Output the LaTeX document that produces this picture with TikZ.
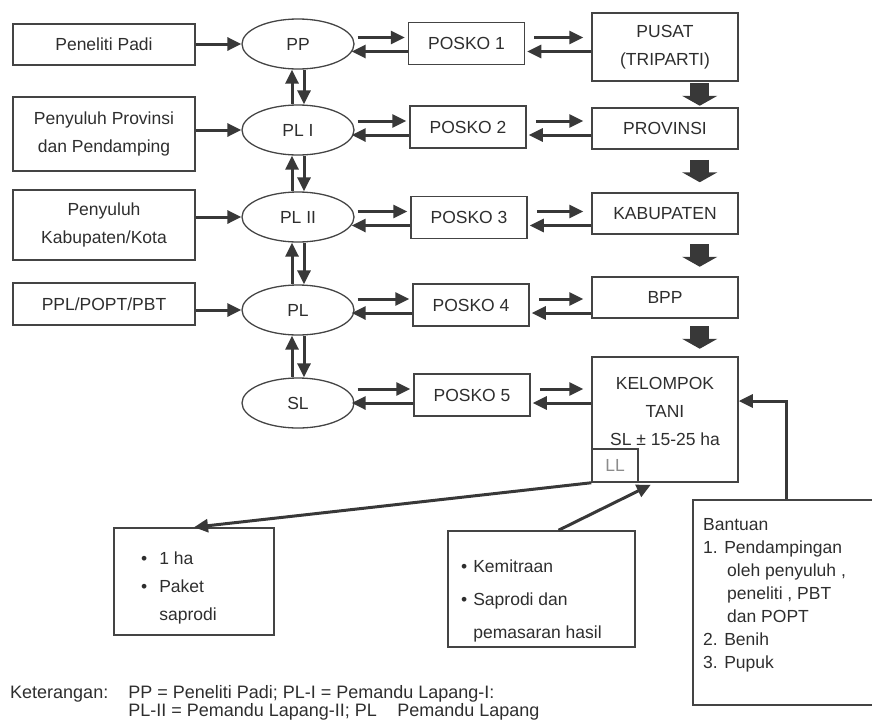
\documentclass[tikz,border=0pt]{standalone}
\usepackage{fontspec}
\setmainfont{Liberation Sans}
\usetikzlibrary{calc, shapes.geometric, arrows.meta}
\definecolor{Ink}{HTML}{383838}
\definecolor{Frame}{HTML}{444444}
\definecolor{Label}{HTML}{2E2E2E}
\newcommand{\Px}{1pt}
\newcommand{\BoxFont}{\fontsize{17.5}{28}\selectfont}
\tikzset{Box/.style={
		draw=Frame,
		line width=1.5pt,
		inner sep=0pt,
		align=center,
		text=Label,
		font=\BoxFont,
	},
	Oval/.style={Box, ellipse, line width=1.3pt, minimum width=112pt, minimum height=50pt},
	Note/.style={inner sep=0pt, align=left, text=Label, font=\BoxFont},
	Link/.style={draw=Ink, line width=3pt, -{Triangle[length=14pt,width=13pt]}},
	BlockLink/.style={draw=Ink, line width=19pt, -{Triangle[length=10pt,width=35pt]}},
}

\begin{document}
\begin{tikzpicture}[x=\Px, y=-\Px]
	\useasboundingbox (0,0) rectangle (872,723);
	\clip (0,0) rectangle (872,723);
	% left column
	\node [Box, minimum width=182pt, minimum height=41pt] (padi) at (104,44.5) {Peneliti Padi};
	\node [Box, minimum width=182pt, minimum height=74pt] (lprov) at (104,134) {Penyuluh Provinsi\\dan Pendamping};
	\node [Box, minimum width=182pt, minimum height=70pt] (lkab) at (104,225) {Penyuluh\\Kabupaten/Kota};
	\node [Box, minimum width=182pt, minimum height=42pt] (ppl) at (104,304) {PPL/POPT/PBT};
	\foreach \name/\Caption/\y in {pp/PP/44, pl1/PL I/130, pl2/PL II/217, pl/PL/310, sl/SL/403}{%
		\node [Oval] (\name) at (298,\y) {\Caption};
	}
	\foreach \n/\x/\y in {1/466.5/43.5, 2/468/127, 3/469/217.5, 4/471/305, 5/472/395}{%
		\node [Box, minimum width=116pt, minimum height=42pt] (posko\n) at (\x,\y) {POSKO \n};
	}
	% right column
	\node [Box, minimum width=146pt, minimum height=68pt] (pusat) at (665,47) {PUSAT\\(TRIPARTI)};
	\node [Box, minimum width=146pt, minimum height=41pt] (rprov) at (665,128.5) {PROVINSI};
	\node [Box, minimum width=146pt, minimum height=41pt] (rkab) at (665,213.5) {KABUPATEN};
	\node [Box, minimum width=146pt, minimum height=41pt] (bpp) at (665,297.5) {BPP};
	\node [Box, minimum width=146pt, minimum height=125pt] (kt) at (665,419.5) {};
	\node [Note, align=center] (kttext) at (665,411) {KELOMPOK\\TANI\\SL ± 15-25 ha};
	\node [Box, minimum width=46pt, minimum height=33pt, text=Label!55] (ll) at (615,465.5) {LL};
	% bottom boxes
	\node [Box, minimum width=160pt, minimum height=107pt] (ha) at (194,581.5) {};
	\node [Note, anchor=north west] (hatext) at (141,545) {\begin{tabular}{@{}l@{\hspace{12pt}}l@{}}\textbullet & 1 ha\\ \textbullet & Paket\\ & saprodi\end{tabular}};
	\node [Box, minimum width=187pt, minimum height=116pt] (mitra) at (541.5,589) {};
	\node [Note, anchor=north west, font=\fontsize{17.5}{33}\selectfont] (mitratext) at (461,549) {\begin{tabular}{@{}l@{\hspace{6pt}}l@{}}\textbullet & Kemitraan\\ \textbullet & Saprodi dan\\ & pemasaran hasil\end{tabular}};
	\node [Box, minimum width=187pt, minimum height=205pt] (bantuan) at (786.5,602.5) {};
	\node [Note, anchor=north west, font=\fontsize{17.5}{23}\selectfont] (bantuantext) at (703,518) {Bantuan\\1. Pendampingan\\\hspace*{24pt}oleh penyuluh ,\\\hspace*{24pt}peneliti , PBT\\\hspace*{24pt}dan POPT\\2. Benih\\3. Pupuk};
	\node [Note, anchor=north west, font=\fontsize{18}{18}\selectfont] (note) at (10,685) {\begin{tabular}{@{}l@{\hspace{20pt}}l@{}}Keterangan: & PP = Peneliti Padi; PL-I = Pemandu Lapang-I:\\ & PL-II = Pemandu Lapang-II; PL \phantom{=} Pemandu Lapang\end{tabular}};
	% connectors
	\foreach \src/\dst in {padi/pp, lprov/pl1, lkab/pl2, ppl/pl}{%
		\draw [Link] (\dst.west -| \src.east) -- (\dst.west);
	}
	\foreach \up/\down in {pp/pl1, pl1/pl2, pl2/pl, pl/sl}{%
		\draw [Link] ([xshift=-6pt]\down.north) -- ([xshift=-6pt]\up.south);
		\draw [Link] ([xshift=6pt]\up.south) -- ([xshift=6pt]\down.north);
	}
	\foreach \e/\p/\r in {pp/posko1/pusat, pl1/posko2/rprov, pl2/posko3/rkab, pl/posko4/bpp, sl/posko5/kt}{%
		\draw [Link] ($(\p.west -| \e.east)+(3pt,6pt)$) -- ($(\p.west)+(-3pt,6pt)$);
		\draw [Link] ($(\p.west)+(0pt,-8pt)$) -- ($(\p.west -| \e.east)+(-3pt,-8pt)$);
		\draw [Link] ($(\p.east)+(9pt,6pt)$) -- ($(\p.east -| \r.west)+(-8pt,6pt)$);
		\draw [Link] ($(\p.east -| \r.west)+(0pt,-8pt)$) -- ($(\p.east)+(2pt,-8pt)$);
	}
	\foreach \a/\b/\s in {pusat/rprov/1.5pt, rprov/rkab/10pt, rkab/bpp/9.5pt, bpp/kt/7.5pt}{%
		\draw [BlockLink, shorten <=\s, shorten >=\s] ($(\a.south east)+(-39pt,0pt)$) -- ($(\b.north east)+(-39pt,0pt)$);
	}
	\draw [Link] (ll.south west) -- (ha.north);
	\draw [Link] ($(mitra.north)+(17pt,0pt)$) -- ($(ll.south east)+(12pt,-2pt)$);
	\draw [Link] (bantuan.north) |- ($(kt.east)+(0pt,18.5pt)$);
\end{tikzpicture}
\end{document}
